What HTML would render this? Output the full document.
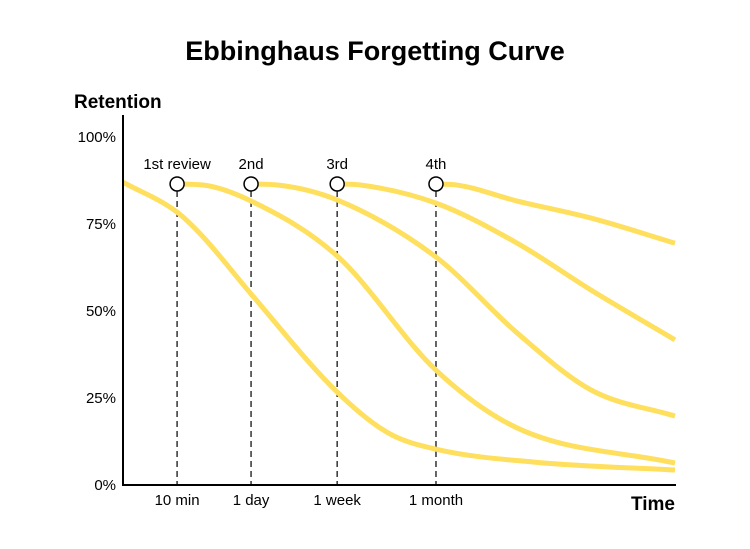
<!DOCTYPE html>
<html><head><meta charset="utf-8"><style>
html,body{margin:0;padding:0;background:#fff;}
svg{display:block;font-family:"Liberation Sans",sans-serif;}
</style></head><body>
<svg id="chart" width="750" height="549" viewBox="0 0 750 549">
<text x="375" y="60" text-anchor="middle" font-size="27" font-weight="bold" fill="#000">Ebbinghaus Forgetting Curve</text>
<text x="74" y="108" font-size="19" font-weight="bold" fill="#000">Retention</text>
<text x="675" y="510" text-anchor="end" font-size="19" font-weight="bold" fill="#000">Time</text>
<g id="grid"></g>
<g id="curves"></g>
<g id="marks"></g>
<line x1="123" y1="115" x2="123" y2="486" stroke="#000" stroke-width="2"/>
<line x1="122" y1="485" x2="676" y2="485" stroke="#000" stroke-width="2"/>
</svg>
<script>
const yTicks = [0, 25, 50, 75, 100];
const yTickLabels = ["0%", "25%", "50%", "75%", "100%"];
const reviewX = [9.8, 23.2, 38.8, 56.7];
const reviewLabels = ["1st review", "2nd", "3rd", "4th"];
const reviewXLabels = ["10 min", "1 day", "1 week", "1 month"];
const reviewLevel = 86.5;
const curve0 = [[0,87],[9.8,78.4],[14.5,71.3],[23.2,54.9],[38.8,26.7],[48,15],[56.7,10.3],[75,6.5],[100,4.3]];
const curve1 = [[9.8,86.5],[14.5,86.2],[23.2,81.6],[38.8,65.8],[56.7,33],[71.4,16.4],[100,6.3]];
const curve2 = [[23.2,86.5],[28,86.2],[38.8,81.9],[56.7,65.5],[71.4,43.7],[84.8,27.3],[100,19.8]];
const curve3 = [[38.8,86.5],[43,86.2],[56.7,81],[71.4,69.5],[84.8,56],[100,41.7]];
const curve4 = [[56.7,86.5],[60,86.3],[71.4,81.6],[84.8,76.7],[100,69.5]];
const curves = [curve0, curve1, curve2, curve3, curve4];

const X0=123, X1=675, Y0=485, Y1=137;
function xs(v){return X0+(X1-X0)*v/100;}
function ys(v){return Y0-(Y0-Y1)*v/100;}
const NS="http://www.w3.org/2000/svg";
function mk(tag, attrs, parent){const e=document.createElementNS(NS,tag);for(const k in attrs)e.setAttribute(k,attrs[k]);parent.appendChild(e);return e;}
const svg=document.getElementById('chart');
const grid=document.getElementById('grid'), cg=document.getElementById('curves'), mg=document.getElementById('marks');

yTicks.forEach((t,i)=>{
  const tx=mk('text',{x:116,y:ys(t)+5,'text-anchor':'end','font-size':15,fill:'#000'},svg);
  tx.textContent=yTickLabels[i];
  
  
});
reviewX.forEach((r,i)=>{
  const ln=mk('line',{x1:xs(r),y1:ys(reviewLevel)+7,x2:xs(r),y2:Y0,stroke:'#333','stroke-width':1.5,'stroke-dasharray':'6,4'},grid);
  
  
  const xl=mk('text',{x:xs(r),y:505,'text-anchor':'middle','font-size':15,fill:'#000'},svg);
  xl.textContent=reviewXLabels[i];
  
  
  const rl=mk('text',{x:xs(r),y:ys(reviewLevel)-15,'text-anchor':'middle','font-size':15,fill:'#000'},svg);
  rl.textContent=reviewLabels[i];
  
  
  const c=mk('circle',{cx:xs(r),cy:ys(reviewLevel),r:7,fill:'#fff',stroke:'#000','stroke-width':1.5},mg);
  
  
});
function pathFor(pts){
  const p=pts.map(q=>[xs(q[0]),ys(q[1])]);
  const n=p.length, d=[], m=new Array(n);
  for(let i=0;i<n-1;i++) d.push((p[i+1][1]-p[i][1])/(p[i+1][0]-p[i][0]));
  m[0]=d[0]; m[n-1]=d[n-2];
  for(let i=1;i<n-1;i++){ m[i]=(d[i-1]*d[i]<=0)?0:(d[i-1]+d[i])/2; }
  for(let i=0;i<n-1;i++){
    if(d[i]===0){m[i]=0;m[i+1]=0;continue;}
    const a=m[i]/d[i], b=m[i+1]/d[i], s=a*a+b*b;
    if(s>9){const t=3/Math.sqrt(s);m[i]=t*a*d[i];m[i+1]=t*b*d[i];}
  }
  let s='M'+p[0][0]+','+p[0][1];
  for(let i=0;i<n-1;i++){
    const h=(p[i+1][0]-p[i][0])/3;
    s+=' C'+(p[i][0]+h)+','+(p[i][1]+m[i]*h)+' '+(p[i+1][0]-h)+','+(p[i+1][1]-m[i+1]*h)+' '+p[i+1][0]+','+p[i+1][1];
  }
  return s;
}
curves.forEach((cv,i)=>{
  const p=mk('path',{d:pathFor(cv),fill:'none',stroke:'#FFDF5E','stroke-width':5},cg);
  
  
});
</script>
</body></html>
